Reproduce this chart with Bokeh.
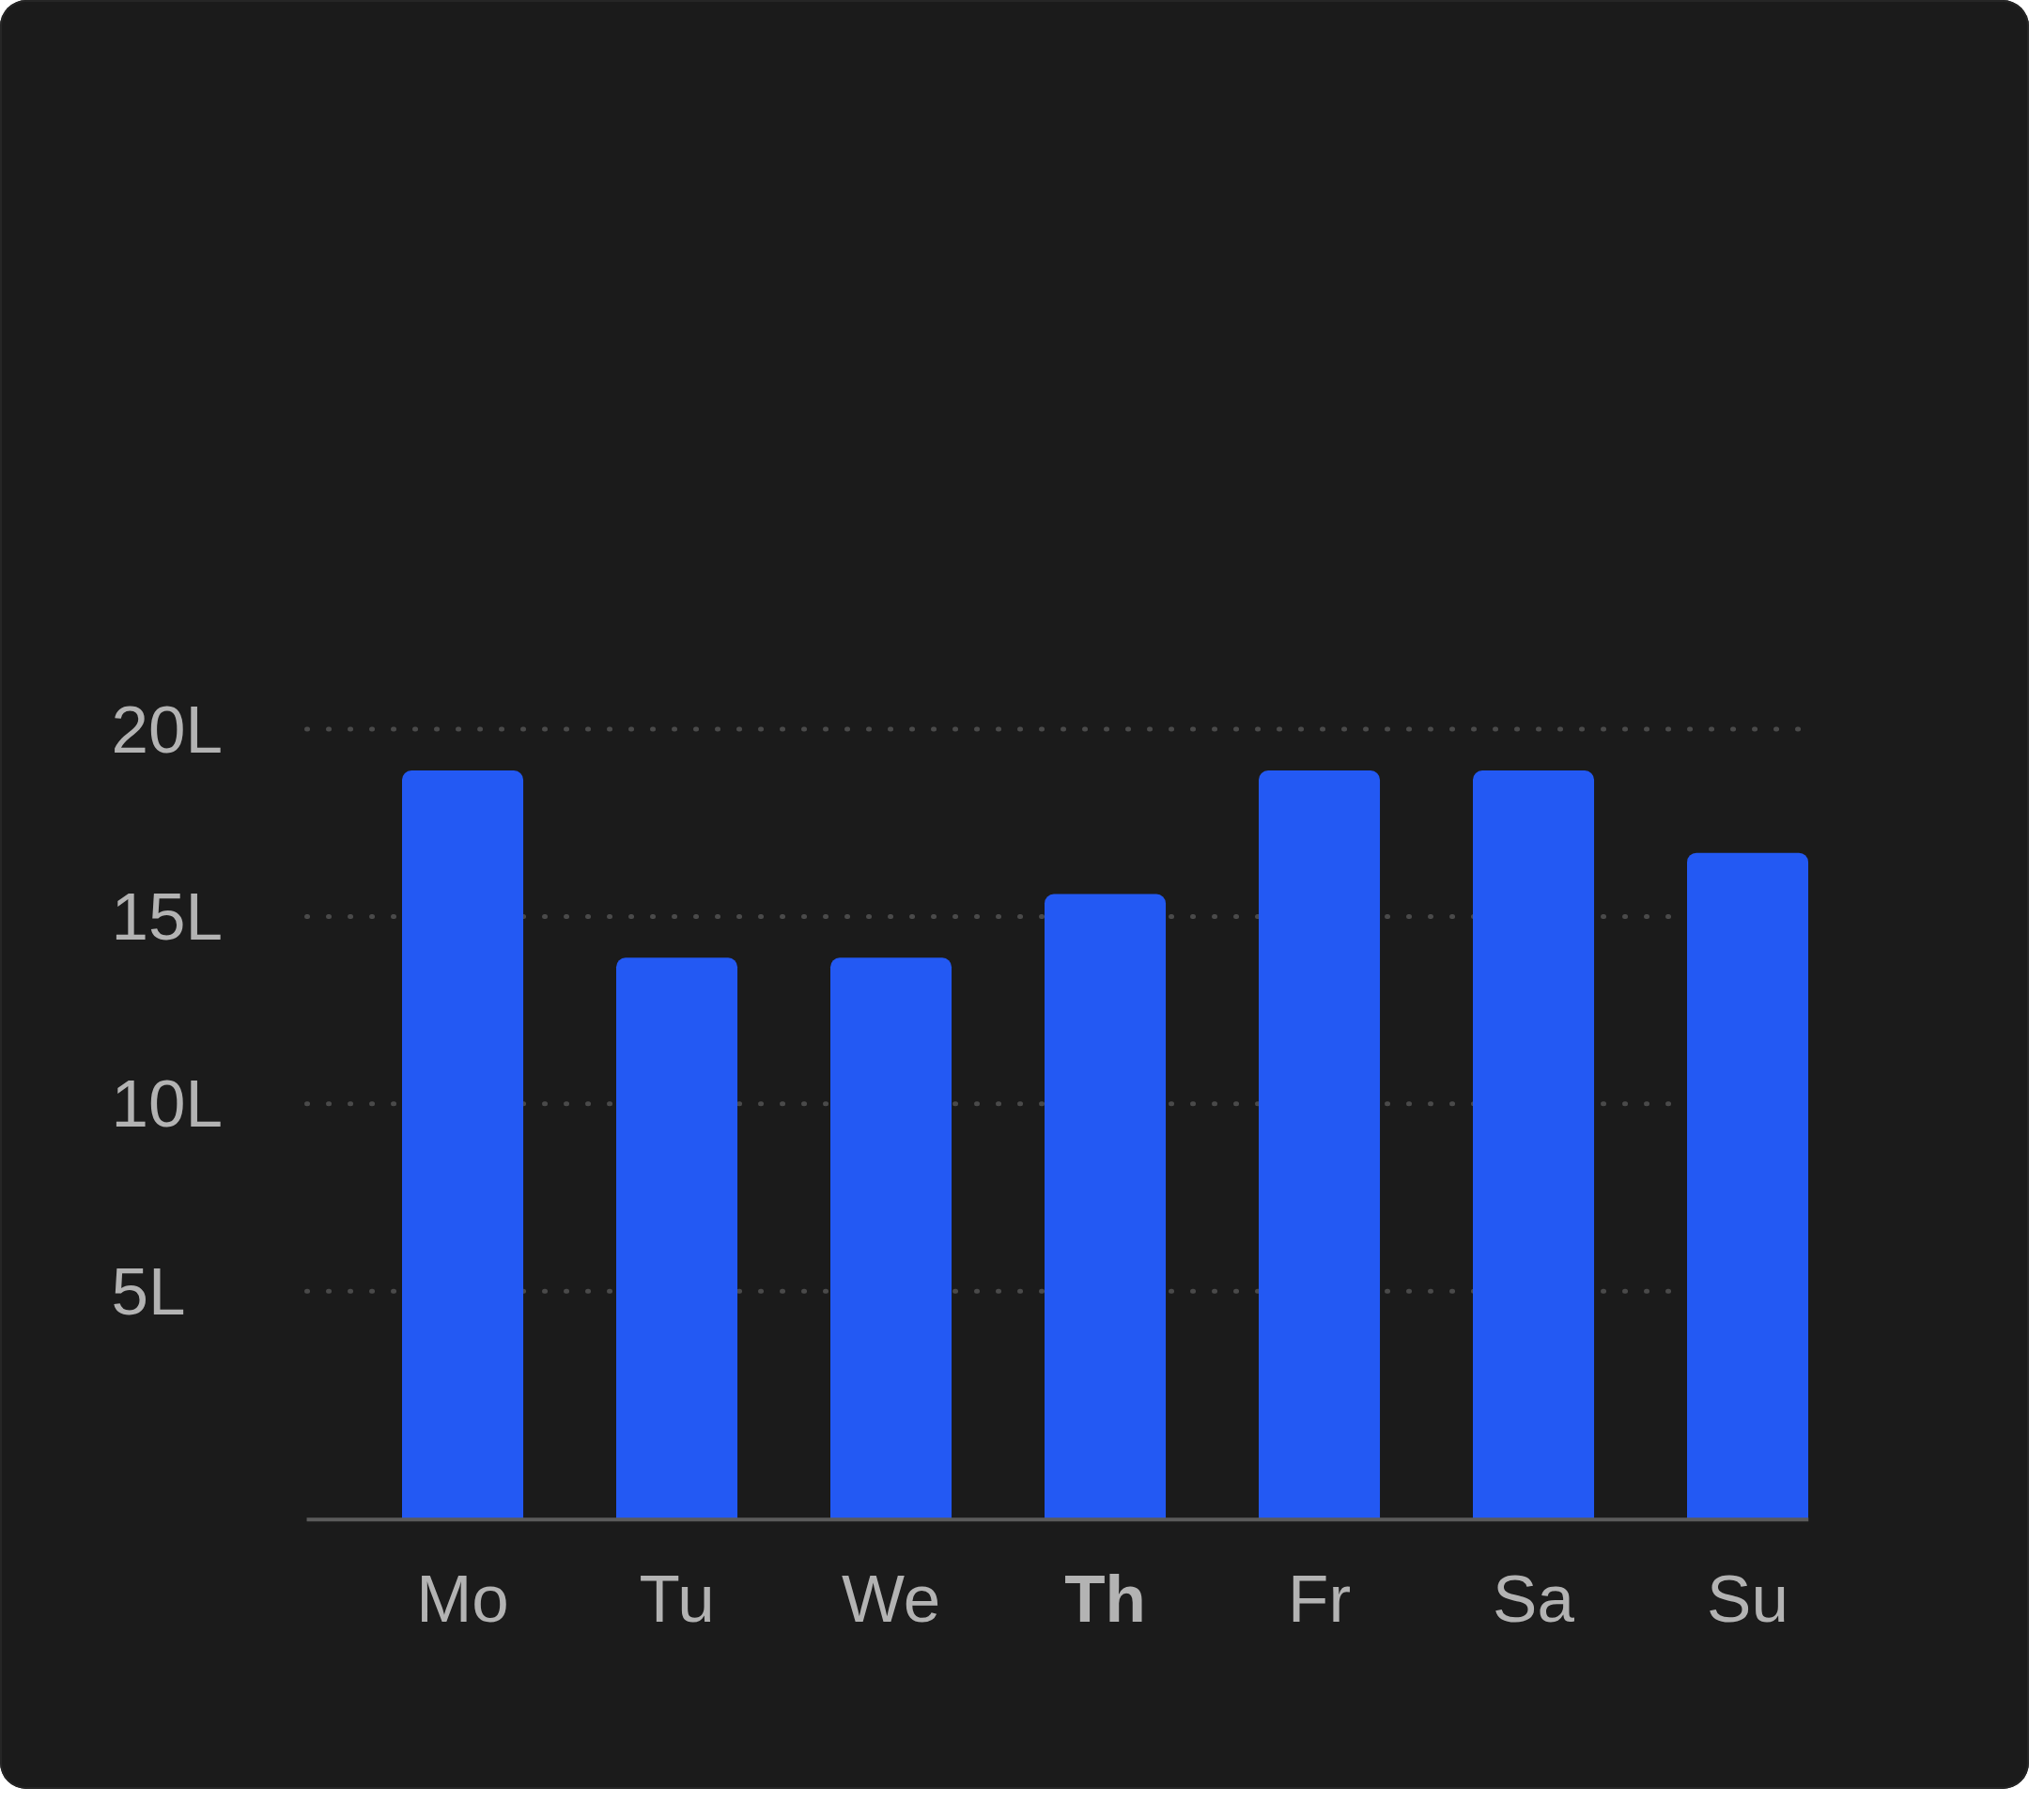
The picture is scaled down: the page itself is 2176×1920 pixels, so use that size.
from bokeh.plotting import figure
from bokeh.models import ColumnDataSource, Range1d
from bokeh.core.properties import value
from bokeh.embed import file_html
from bokeh.resources import INLINE

# ---- data ----
days = ["Mo", "Tu", "We", "Th", "Fr", "Sa", "Su"]
litres = [18.9, 13.9, 13.9, 15.6, 18.9, 18.9, 16.7]
label_styles = ["normal", "normal", "normal", "bold", "normal", "normal", "normal"]
y_ticks = [5, 10, 15, 20]
y_tick_labels = ["5L", "10L", "15L", "20L"]

# ---- layout constants ----
BG = "#1b1b1b"
BAR = "#2359f3"
TXT = "#b3b3b3"
FONT = "Liberation Sans"
BASE = -1.1        # baseline value of the bars
LABEL_Y = -3.21    # baseline of day labels
X_FRAME = -2.158   # left edge of the plotting area
X0, X1 = -0.728, 6.285   # extent of grid / plot body
X_YLAB = -1.64     # left edge of y tick labels

xs = list(range(len(days)))
src = ColumnDataSource(dict(x=xs, top=litres, day=days, style=label_styles))
gsrc = ColumnDataSource(dict(x0=[X0] * len(y_ticks), x1=[X1] * len(y_ticks),
                             y=y_ticks, xl=[X_YLAB] * len(y_ticks), text=y_tick_labels))

p = figure(width=2160, height=1904, output_backend="svg", toolbar_location=None,
           x_range=Range1d(X_FRAME, X1), y_range=Range1d(-5.693, 20.893),
           min_border_left=0, min_border_right=235, min_border_top=740,
           min_border_bottom=104)
p.background_fill_color = None
p.border_fill_color = None
p.outline_line_color = None
p.outline_line_alpha = 0
p.styles = {"border-radius": "28px", "overflow": "hidden", "background-color": BG,
            "box-shadow": "inset 0 0 0 2px #262626"}
p.xaxis.visible = False
p.yaxis.visible = False
p.grid.visible = False

# dotted horizontal grid lines at the y ticks
p.segment(x0="x0", x1="x1", y0="y", y1="y", source=gsrc, line_color="#4a4a4a",
          line_width=5, line_dash="1 22", line_cap="round")

# y tick labels
p.text(x="xl", y="y", text="text", source=gsrc, text_font=value(FONT),
       text_font_size="71px", text_color=TXT, text_align="left",
       text_baseline="middle")

# bars
p.vbar(x="x", top="top", bottom=BASE, width=0.566, source=src,
       fill_color=BAR, line_color=None, border_radius=(10, 10, 0, 0))

# baseline
p.segment(x0=X0, x1=X1, y0=BASE, y1=BASE, line_color="#5b5b5b", line_width=4)

# day labels
p.text(x="x", y=LABEL_Y, text="day", source=src, text_font=value(FONT),
       text_font_size="71px", text_font_style="style", text_color=TXT,
       text_align="center", text_baseline="alphabetic")

open("out.html", "w").write(file_html(p, INLINE))
